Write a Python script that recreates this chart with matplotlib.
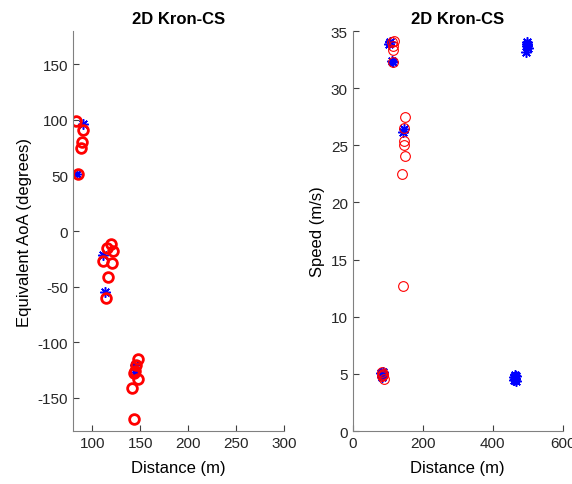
import numpy as np
import matplotlib
matplotlib.use("Agg")
import matplotlib.pyplot as plt

plt.rcParams['font.family'] = ['Liberation Sans', 'DejaVu Sans']
plt.rcParams['axes.unicode_minus'] = False

# left panel: equivalent AoA vs distance
aoa_est_dist = [82.8, 90.1, 89.7, 88.3, 85.2,
                119.3, 115.1, 121.4, 110.9, 120.9, 116.8, 114.1,
                148.0, 145.6, 144.6, 143.5, 148.0, 141.8, 143.5]
aoa_est = [98.7, 91.2, 80.4, 74.4, 51.6,
           -11.7, -15.6, -18.3, -27.3, -28.8, -41.1, -60.6,
           -115.0, -120.6, -125.7, -128.0, -133.0, -141.0, -169.0]
aoa_true_dist = [90.8, 84.5, 110.9, 113.3, 144.6, 144.6]
aoa_true = [96.3, 51.3, -21.6, -54.6, -120.6, -127.0]

# right panel: speed vs distance
spd_est_dist = [84, 86, 88, 85, 87,
                112, 118, 116, 115, 114,
                149, 146, 147, 147, 149, 140, 144]
spd_est = [5.2, 4.9, 4.6, 4.8, 5.0,
           34.0, 34.1, 33.7, 33.3, 32.25,
           27.5, 26.5, 25.4, 25.0, 24.1, 22.5, 12.7]
spd_true_dist = [104, 107, 114, 112, 144, 146,
                 82, 84, 86, 83, 87,
                 499, 499, 496, 500, 498,
                 463, 460, 466, 462, 465, 461, 464]
spd_true = [33.9, 34.0, 32.3, 32.4, 26.2, 26.4,
            5.1, 4.9, 5.0, 4.7, 5.2,
            34.0, 33.7, 33.2, 33.5, 33.9,
            4.6, 4.5, 4.8, 4.9, 4.4, 4.7, 4.6]

fig = plt.figure(figsize=(5.72, 4.85), dpi=100)
ax1 = fig.add_axes([0.1276, 0.109, 0.369, 0.825])
ax2 = fig.add_axes([0.6166, 0.109, 0.3674, 0.825])

star = (8, 2, 0)
ax1.plot(aoa_true_dist, aoa_true, ls='none', marker=star, color='b', ms=7.5, mew=1.1)
ax1.plot(aoa_est_dist, aoa_est, ls='none', marker='o', mfc='none', mec='r', ms=7, mew=2)
ax1.set_xlim(80, 300)
ax1.set_ylim(-180, 180)
ax1.set_xticks(np.arange(100, 301, 50))
ax1.set_yticks(np.arange(-150, 151, 50))
ax1.set_xlabel('Distance (m)', fontsize=12, labelpad=7)
ax1.set_ylabel('Equivalent AoA (degrees)', fontsize=12, labelpad=4)
ax1.set_title('2D Kron-CS', fontsize=12, fontweight='bold')

ax2.plot(spd_true_dist, spd_true, ls='none', marker=star, color='b', ms=7.5, mew=1.1)
ax2.plot(spd_est_dist, spd_est, ls='none', marker='o', mfc='none', mec='r', ms=7, mew=0.8)
ax2.set_xlim(0, 600)
ax2.set_ylim(0, 35)
ax2.set_xticks([0, 200, 400, 600])
ax2.set_yticks(np.arange(0, 36, 5))
ax2.set_xlabel('Distance (m)', fontsize=12, labelpad=7)
ax2.set_ylabel('Speed (m/s)', fontsize=12, labelpad=4)
ax2.set_title('2D Kron-CS', fontsize=12, fontweight='bold')

for ax in (ax1, ax2):
    for s in ('top', 'right'):
        ax.spines[s].set_visible(False)
    for s in ('left', 'bottom'):
        ax.spines[s].set_color('#808080')
    ax.tick_params(direction='in', length=4, colors='#404040', labelsize=11,
                   labelcolor='#262626')

fig.savefig('out.png', dpi=100)
